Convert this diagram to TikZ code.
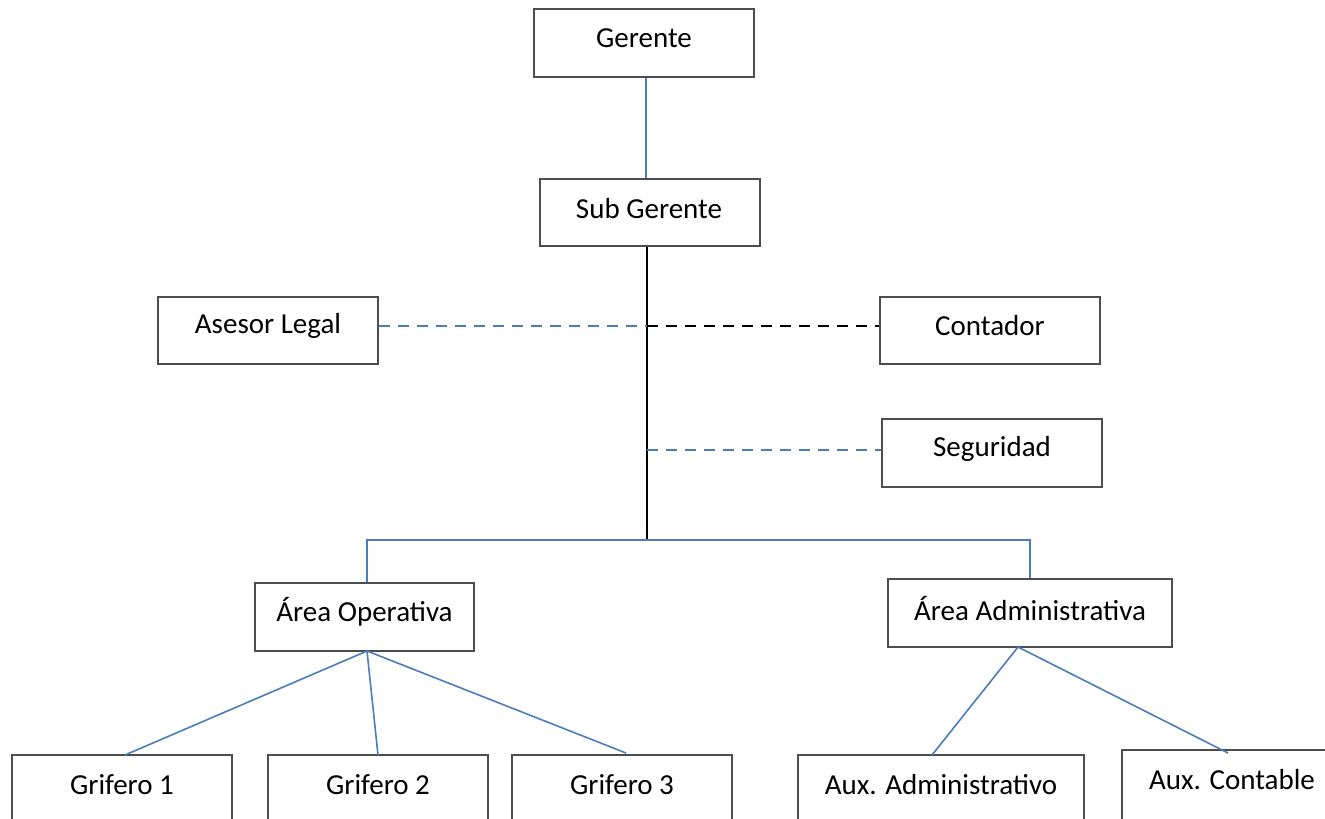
\documentclass[tikz,border=0pt]{standalone}
\usepackage{fontspec}
\setmainfont{Carlito}
\begin{document}
\begin{tikzpicture}[x=1pt,y=-1pt,
  box/.style={draw=boxgray, line width=1.6pt, rectangle, inner sep=0pt},
  txt/.style={inner sep=0pt, font=\fontsize{29}{34}\selectfont},
  conn/.style={draw=lineblue, line width=1.6pt},
  connk/.style={draw=black, line width=1.8pt},
  dsh/.style={dash pattern=on 11pt off 8pt}]
\definecolor{lineblue}{HTML}{4A7EBB}
\definecolor{boxgray}{HTML}{4D4D4D}
\clip (0,0) rectangle (1325,819);
\fill[white] (0,0) rectangle (1325,819);
% boxes
\node[box, minimum width=220pt, minimum height=68pt] (ger) at (644,43) {};
\node[txt] (tger) at (644,38) {Gerente};
\node[box, minimum width=220pt, minimum height=67pt] (sub) at (650,212.5) {};
\node[txt] (tsub) at (649,209) {Sub Gerente};
\node[box, minimum width=220pt, minimum height=67pt] (ase) at (268,330.5) {};
\node[txt] (tase) at (268,326) {Asesor Legal};
\node[box, minimum width=220pt, minimum height=67pt] (con) at (990,330.5) {};
\node[txt] (tcon) at (990,326) {Contador};
\node[box, minimum width=220pt, minimum height=68pt] (seg) at (992,453) {};
\node[txt] (tseg) at (992,449) {Seguridad};
\node[box, minimum width=219pt, minimum height=68pt] (ope) at (364.5,617) {};
\node[txt] (tope) at (364.5,612) {Área Operativa};
\node[box, minimum width=284pt, minimum height=68pt] (adm) at (1030,613) {};
\node[txt] (tadm) at (1030,608) {Área Administrativa};
\node[box, minimum width=220pt, minimum height=100pt] (g1) at (122,805) {};
\node[txt] (tg1) at (122,785) {Grifero 1};
\node[box, minimum width=220pt, minimum height=100pt] (g2) at (378,805) {};
\node[txt] (tg2) at (378,785) {Grifero 2};
\node[box, minimum width=220pt, minimum height=100pt] (g3) at (622,805) {};
\node[txt] (tg3) at (622,785) {Grifero 3};
\node[box, minimum width=286pt, minimum height=100pt] (axa) at (941,805) {};
\node[txt] (taxa) at (941,785) {Aux. Administrativo};
\node[box, minimum width=220pt, minimum height=110pt] (axc) at (1232,805) {};
\node[txt] (taxc) at (1232,780) {Aux. Contable};
% coordinates
\coordinate (jL) at (647,326);
\coordinate (jS) at (647,450);
\coordinate (bus) at (647,540);
\coordinate (busL) at (367,540);
\coordinate (busR) at (1030,540);
\coordinate (opeB) at (367,651);
\coordinate (admB) at (1018,647);
% connectors
\draw[conn] (ger.south -| 646,0) -- (sub.north -| 646,0);
\draw[connk] (sub.south -| bus) -- (bus);
\draw[conn, dsh] (ase.east |- jL) -- (jL);
\draw[connk, dsh, line width=1.6pt] (jL) -- (con.west |- jL);
\draw[conn, dsh] (jS) -- (seg.west |- jS);
\draw[conn] (ope.north -| busL) -- (busL) -- (busR) -- (adm.north -| busR);
\draw[conn] (opeB) -- (125,755);
\draw[conn] (opeB) -- (378,755);
\draw[conn] (opeB) -- (626,753);
\draw[conn] (admB) -- (932,755);
\draw[conn] (admB) -- (1228,753);
\end{tikzpicture}
\end{document}
